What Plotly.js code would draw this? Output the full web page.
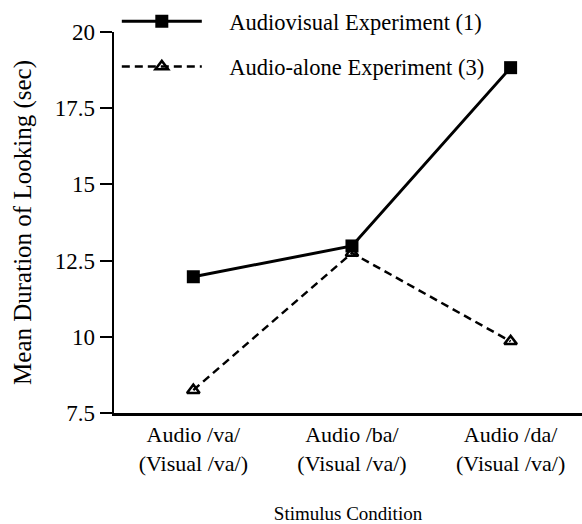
<!DOCTYPE html>
<html><head><meta charset="utf-8">
<script src="https://cdn.plot.ly/plotly-3.0.1.min.js"></script>
<style>html,body{margin:0;padding:0;background:#fff}</style>
</head><body>
<div id="chart" style="width:582px;height:524px"></div>
<script>
const categories = ["Audio /va/<br>(Visual /va/)", "Audio /ba/<br>(Visual /va/)", "Audio /da/<br>(Visual /va/)"];
const audiovisual = [11.97, 12.98, 18.83];
const audioAlone = [8.25, 12.75, 9.85];
const yTickVals = [7.5, 10, 12.5, 15, 17.5, 20];
const yTickText = ["7.5", "10", "12.5", "15", "17.5", "20"];
const seriesNames = ["Audiovisual Experiment (1)", "Audio-alone Experiment (3)"];

const fam = "Liberation Serif";
const xTickFont = {family: fam, size: 22, color: "#000"};
const yTickFont = {family: fam, size: 23, color: "#000"};
const legendFont = {family: fam, size: 22.5, color: "#000"};
const yTitleFont = {family: fam, size: 25, color: "#000"};
const xTitleFont = {family: fam, size: 19, color: "#000"};
const xIdx = categories.map((c, i) => i);
const pad = "\u00a0\u00a0\u00a0\u00a0";

const traces = [
  {x: xIdx, y: audiovisual, name: pad + seriesNames[0], type: "scatter", mode: "lines+markers",
   legendgroup: "a",
   line: {color: "#000", width: 3},
   marker: {symbol: "square", size: 13, color: "#000"}},
  {x: xIdx, y: audioAlone, name: pad + seriesNames[1], type: "scatter", mode: "lines+markers",
   legendgroup: "b",
   line: {color: "#000", width: 2.5, dash: "8px,5px"},
   marker: {symbol: "triangle-up-open", size: 11, color: "#000", line: {color: "#000", width: 2.5}}}
];

const layout = {
  width: 582, height: 524,
  margin: {l: 114, r: 0, t: 30, b: 111},
  paper_bgcolor: "#fff", plot_bgcolor: "#fff",
  font: xTickFont,
  showlegend: true,
  legend: {x: 0.006, y: 1.085, xanchor: "left", yanchor: "top", bgcolor: "rgba(0,0,0,0)",
           font: legendFont, tracegroupgap: 13, itemwidth: 80, traceorder: "grouped"},
  xaxis: {
    range: [-0.5, 2.45], tickvals: xIdx, ticktext: categories,
    showgrid: false, zeroline: false, showline: true, linecolor: "#000", linewidth: 2.5,
    ticks: "", tickfont: xTickFont,
    title: {text: "Stimulus Condition", font: xTitleFont, standoff: 36}
  },
  yaxis: {
    range: [7.5, 20], tickvals: yTickVals, ticktext: yTickText,
    showgrid: false, zeroline: false, showline: true, linecolor: "#000", linewidth: 2.5,
    ticks: "outside", ticklen: 12, tickwidth: 2, tickcolor: "#000", tickfont: yTickFont,
    title: {text: "Mean Duration of Looking (sec)", font: yTitleFont, standoff: 16}
  }
};

Plotly.newPlot("chart", traces, layout, {displayModeBar: false, staticPlot: true});
</script>
</body></html>
